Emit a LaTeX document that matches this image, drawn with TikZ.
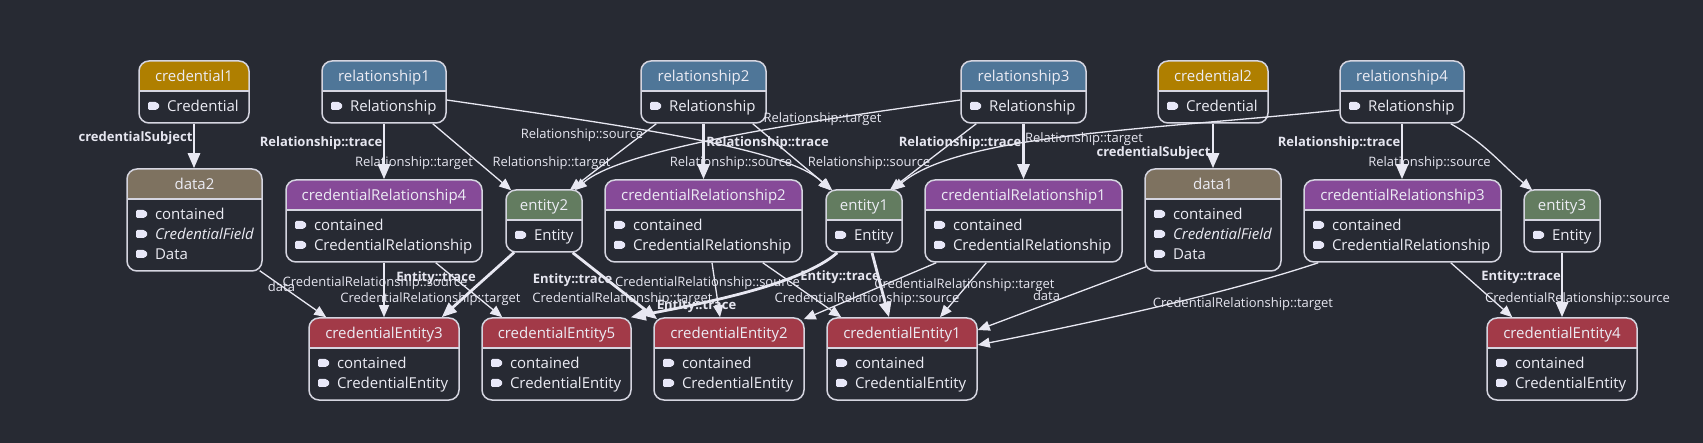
\documentclass[tikz,border=0pt]{standalone}
\usepackage{fontspec}
\setmainfont{Open Sans}
\usepackage{tikz}
\usetikzlibrary{arrows.meta,calc}
\setlength{\parindent}{0pt}
\definecolor{bgc}{HTML}{272A33}
\definecolor{bordc}{HTML}{D5D5E0}
\definecolor{edgec}{HTML}{E8E8F2}
\definecolor{txtc}{HTML}{ECECF4}
\definecolor{lblc}{HTML}{E6E6F0}
\definecolor{tagc}{HTML}{E8E8F8}
\definecolor{credc}{HTML}{AF7F00}
\definecolor{relc}{HTML}{4F7698}
\definecolor{datac}{HTML}{7E7260}
\definecolor{crelc}{HTML}{864A98}
\definecolor{entc}{HTML}{637C60}
\definecolor{cec}{HTML}{A23A48}
\newcommand{\fld}[1]{\mbox{\tikz[baseline=0pt]\fill[tagc,rounded corners=0.7pt] (0pt,0.6pt) -- (4.4pt,0.6pt) -- (6pt,2.6pt) -- (4.4pt,4.6pt) -- (0pt,4.6pt) -- cycle;\hspace{3.5pt}#1}}

\begin{document}
\begin{tikzpicture}[
    x=0.5pt, y=-0.5pt,
    hdr/.style={path picture={
        \fill[#1, sharp corners] (path picture bounding box.north west) rectangle ([yshift=-15pt]path picture bounding box.north east);
        \draw[bordc, line width=0.75pt, sharp corners] ([yshift=-15pt]path picture bounding box.north west) -- ([yshift=-15pt]path picture bounding box.north east);}},
    cls/.style={rectangle, rounded corners=5pt, draw=bordc, line width=0.75pt, fill=bgc, text=txtc,
        inner xsep=4.5pt, inner ysep=0pt, align=left, font=\fontsize{7.5pt}{10pt}\selectfont, hdr=#1},
    lbl/.style={font=\fontsize{6.5pt}{7pt}\selectfont, text=lblc, inner sep=0pt, text height=4.9pt, text depth=0.4pt},
    blbl/.style={lbl, font=\fontsize{6.5pt}{7pt}\selectfont\bfseries},
    rel/.style={draw=edgec, line width=0.65pt, -{Triangle[length=6pt,width=5pt]}},
    trc/.style={draw=edgec, line width=1.4pt, -{Triangle[length=7.5pt,width=6pt]}}
]
    \fill[bgc] (0,0) rectangle (1703,443);

    \node[cls=credc, text width=46pt] (cred1) at (194,92) {\rule{0pt}{10.1pt}\hfill credential1\hfill\null\\[5pt]\fld{Credential}\rule[-5.9pt]{0pt}{5.9pt}};
    \node[cls=relc, text width=53pt] (rel1) at (384,92) {\rule{0pt}{10.1pt}\hfill relationship1\hfill\null\\[5pt]\fld{Relationship}\rule[-5.9pt]{0pt}{5.9pt}};
    \node[cls=relc, text width=53.5pt] (rel2) at (703.5,92) {\rule{0pt}{10.1pt}\hfill relationship2\hfill\null\\[5pt]\fld{Relationship}\rule[-5.9pt]{0pt}{5.9pt}};
    \node[cls=relc, text width=53.5pt] (rel3) at (1023.5,92) {\rule{0pt}{10.1pt}\hfill relationship3\hfill\null\\[5pt]\fld{Relationship}\rule[-5.9pt]{0pt}{5.9pt}};
    \node[cls=credc, text width=46pt] (cred2) at (1213,92) {\rule{0pt}{10.1pt}\hfill credential2\hfill\null\\[5pt]\fld{Credential}\rule[-5.9pt]{0pt}{5.9pt}};
    \node[cls=relc, text width=53pt] (rel4) at (1402,92) {\rule{0pt}{10.1pt}\hfill relationship4\hfill\null\\[5pt]\fld{Relationship}\rule[-5.9pt]{0pt}{5.9pt}};

    \node[cls=datac, text width=58.5pt] (data2) at (194.5,220) {\rule{0pt}{10.1pt}\hfill data2\hfill\null\\[5pt]\fld{contained}\\\fld{\textit{CredentialField}}\\\fld{Data}\rule[-5.9pt]{0pt}{5.9pt}};
    \node[cls=crelc, text width=89pt] (crel4) at (384,221) {\rule{0pt}{10.1pt}\hfill credentialRelationship4\hfill\null\\[5pt]\fld{contained}\\\fld{CredentialRelationship}\rule[-5.9pt]{0pt}{5.9pt}};
    \node[cls=entc, text width=29pt] (ent2) at (544,221) {\rule{0pt}{10.1pt}\hfill entity2\hfill\null\\[5pt]\fld{Entity}\rule[-5.9pt]{0pt}{5.9pt}};
    \node[cls=crelc, text width=89.5pt] (crel2) at (703.5,221) {\rule{0pt}{10.1pt}\hfill credentialRelationship2\hfill\null\\[5pt]\fld{contained}\\\fld{CredentialRelationship}\rule[-5.9pt]{0pt}{5.9pt}};
    \node[cls=entc, text width=29pt] (ent1) at (864,221) {\rule{0pt}{10.1pt}\hfill entity1\hfill\null\\[5pt]\fld{Entity}\rule[-5.9pt]{0pt}{5.9pt}};
    \node[cls=crelc, text width=89.5pt] (crel1) at (1023.5,221) {\rule{0pt}{10.1pt}\hfill credentialRelationship1\hfill\null\\[5pt]\fld{contained}\\\fld{CredentialRelationship}\rule[-5.9pt]{0pt}{5.9pt}};
    \node[cls=datac, text width=59pt] (data1) at (1213,220) {\rule{0pt}{10.1pt}\hfill data1\hfill\null\\[5pt]\fld{contained}\\\fld{\textit{CredentialField}}\\\fld{Data}\rule[-5.9pt]{0pt}{5.9pt}};
    \node[cls=crelc, text width=89.5pt] (crel3) at (1402.5,221) {\rule{0pt}{10.1pt}\hfill credentialRelationship3\hfill\null\\[5pt]\fld{contained}\\\fld{CredentialRelationship}\rule[-5.9pt]{0pt}{5.9pt}};
    \node[cls=entc, text width=29pt] (ent3) at (1562,221) {\rule{0pt}{10.1pt}\hfill entity3\hfill\null\\[5pt]\fld{Entity}\rule[-5.9pt]{0pt}{5.9pt}};

    \node[cls=cec, text width=66pt] (ce3) at (384,359) {\rule{0pt}{10.1pt}\hfill credentialEntity3\hfill\null\\[5pt]\fld{contained}\\\fld{CredentialEntity}\rule[-5.9pt]{0pt}{5.9pt}};
    \node[cls=cec, text width=65.5pt] (ce5) at (556.5,359) {\rule{0pt}{10.1pt}\hfill credentialEntity5\hfill\null\\[5pt]\fld{contained}\\\fld{CredentialEntity}\rule[-5.9pt]{0pt}{5.9pt}};
    \node[cls=cec, text width=66pt] (ce2) at (729,359) {\rule{0pt}{10.1pt}\hfill credentialEntity2\hfill\null\\[5pt]\fld{contained}\\\fld{CredentialEntity}\rule[-5.9pt]{0pt}{5.9pt}};
    \node[cls=cec, text width=66pt] (ce1) at (902,359) {\rule{0pt}{10.1pt}\hfill credentialEntity1\hfill\null\\[5pt]\fld{contained}\\\fld{CredentialEntity}\rule[-5.9pt]{0pt}{5.9pt}};
    \node[cls=cec, text width=66pt] (ce4) at (1562,359) {\rule{0pt}{10.1pt}\hfill credentialEntity4\hfill\null\\[5pt]\fld{contained}\\\fld{CredentialEntity}\rule[-5.9pt]{0pt}{5.9pt}};

    \draw[trc] (cred1.south) -- (cred1.south |- data2.north);
    \draw[trc] (cred2.south) -- (cred2.south |- data1.north);
    \draw[trc] (rel1.south) -- (rel1.south |- crel4.north);
    \draw[trc] (rel2.south) -- (rel2.south |- crel2.north);
    \draw[trc] (rel3.south) -- (rel3.south |- crel1.north);
    \draw[trc] (rel4.south) -- (rel4.south |- crel3.north);

    \draw[rel] ($(rel1.south east)+(-14,0)$) -- ($(ent2.north west)+(6,1)$);
    \draw[rel] ($(rel1.east)+(0,8)$) .. controls +(194,28) and +(-41,-41) .. ($(ent1.north west)+(5,1)$);
    \draw[rel] ($(rel2.south west)+(16,0)$) -- ($(ent2.north east)+(-13,1)$);
    \draw[rel] ($(rel2.south east)+(-14,0)$) -- ($(ent1.north west)+(7,1)$);
    \draw[rel] ($(rel3.west)+(0,8)$) .. controls +(-161,22) and +(47,-41) .. ($(ent2.north east)+(-8,1)$);
    \draw[rel] ($(rel3.south west)+(16,0)$) -- ($(ent1.north east)+(-13,1)$);
    \draw[rel] ($(rel4.west)+(0,18)$) .. controls +(-190,20) and +(68,-56) .. ($(ent1.north east)+(-10,1)$);
    \draw[rel] ($(rel4.south east)+(-14,0)$) .. controls +(35,20) and +(-30,-25) .. ($(ent3.north west)+(9,1)$);

    \draw[rel] ($(data2.south east)+(-3,-1)$) -- ($(ce3.north west)+(18,0)$);
    \draw[rel] (crel4.south) -- (ce3.north);
    \draw[rel] ($(crel4.south east)+(-47,0)$) -- ($(ce5.north west)+(21,0)$);
    \draw[trc] ($(ent2.south west)+(9,-0.5)$) -- ($(ce3.north east)+(-18,0)$);
    \draw[trc] ($(ent2.south east)+(-10,0)$) -- ($(ce2.north west)+(4,2)$);
    \draw[trc] ($(ent1.south west)+(12,0)$) .. controls +(-38,33) and +(67,-13) .. ($(ce5.north east)+(-1,0)$);
    \draw[trc] ($(ent1.south)+(8,0)$) -- ($(ce1.north)+(-13,0)$);
    \draw[rel] ($(crel2.south)+(8.5,0)$) -- ($(ce2.north)+(-9,0)$);
    \draw[rel] ($(crel2.south east)+(-40,0)$) -- ($(ce1.north west)+(15,0)$);
    \draw[rel] ($(crel1.south west)+(12,0)$) -- ($(ce2.north east)+(-1,2)$);
    \draw[rel] ($(crel1.south west)+(62,0)$) -- ($(ce1.north)+(38,0)$);
    \draw[rel] ($(data1.south west)+(2,-5)$) -- ($(ce1.east)+(0,-29)$);
    \draw[rel] ($(crel3.south west)+(15,0)$) .. controls +(-99,33) and +(102,-20) .. ($(ce1.east)+(0,-14)$);
    \draw[rel] ($(crel3.south east)+(-51,0)$) -- ($(ce4.north west)+(26,0)$);
    \draw[trc] (ent3.south) -- (ce4.north);

    \node[blbl] (subj1) at (135.5,137) {credentialSubject};
    \node[blbl] (subj2) at (1153.5,152) {credentialSubject};
    \node[blbl] (rtr1) at (321,142) {Relationship::trace};
    \node[blbl] (rtr2) at (767.5,142) {Relationship::trace};
    \node[blbl] (rtr3) at (960,142) {Relationship::trace};
    \node[blbl] (rtr4) at (1339,142) {Relationship::trace};
    \node[lbl] (rtg1) at (414,162) {Relationship::target};
    \node[lbl] (rtg2) at (551.5,162) {Relationship::target};
    \node[lbl] (rsrc2) at (582,134) {Relationship::source};
    \node[lbl] (rsrc1) at (731,162) {Relationship::source};
    \node[lbl] (rtg3) at (822.5,118) {Relationship::target};
    \node[lbl] (rsrc3) at (869,162) {Relationship::source};
    \node[lbl] (rtg4) at (1084,138) {Relationship::target};
    \node[lbl] (rsrc4) at (1429.5,162) {Relationship::source};

    \node[lbl] (dat2) at (281.5,287) {data};
    \node[lbl] (crs4) at (375,282) {CredentialRelationship::source};
    \node[lbl] (crt4) at (430.5,298) {CredentialRelationship::target};
    \node[blbl] (etr2a) at (436,277) {Entity::trace};
    \node[blbl] (etr2b) at (572.5,279) {Entity::trace};
    \node[lbl] (crt2) at (622.5,298) {CredentialRelationship::target};
    \node[lbl] (crs2) at (707.5,282) {CredentialRelationship::source};
    \node[blbl] (etr1a) at (696.5,305) {Entity::trace};
    \node[blbl] (etr1b) at (840,276) {Entity::trace};
    \node[lbl] (crt1) at (964.5,284) {CredentialRelationship::target};
    \node[lbl] (crs1) at (867,298) {CredentialRelationship::source};
    \node[lbl] (dat1) at (1046.5,296) {data};
    \node[lbl] (crt3) at (1243,303) {CredentialRelationship::target};
    \node[blbl] (etr3) at (1521,276) {Entity::trace};
    \node[lbl] (crs3) at (1577.5,298) {CredentialRelationship::source};
\end{tikzpicture}
\end{document}
